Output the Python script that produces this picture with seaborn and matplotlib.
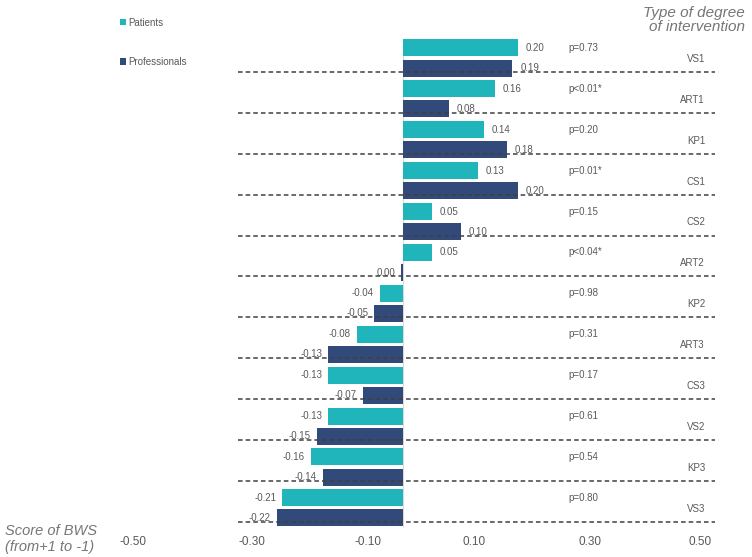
import matplotlib
matplotlib.use('Agg')
import matplotlib.pyplot as plt
import seaborn as sns
import pandas as pd

# data
items = ['VS1', 'ART1', 'KP1', 'CS1', 'CS2', 'ART2', 'KP2', 'ART3', 'CS3', 'VS2', 'KP3', 'VS3']
patients = [0.20, 0.16, 0.14, 0.13, 0.05, 0.05, -0.04, -0.08, -0.13, -0.13, -0.16, -0.21]
professionals = [0.19, 0.08, 0.18, 0.20, 0.10, -0.003, -0.05, -0.13, -0.07, -0.15, -0.14, -0.22]
pvalues = ['p=0.73', 'p<0.01*', 'p=0.20', 'p=0.01*', 'p=0.15', 'p<0.04*',
           'p=0.98', 'p=0.31', 'p=0.17', 'p=0.61', 'p=0.54', 'p=0.80']
tick_labels = ['-0.50', '-0.30', '-0.10', '0.10', '0.30', '0.50']
groups = ['Patients', 'Professionals']

sns.set_style('white')
plt.rcParams['font.family'] = ['Liberation Sans', 'DejaVu Sans']

TEAL = '#1fb5ba'
NAVY = '#324a79'
GREY = '#595959'

df = pd.DataFrame({
    'item': items * 2,
    'score': patients + professionals,
    'group': [groups[0]] * len(items) + [groups[1]] * len(items),
})

W, H, DPI = 752, 557, 100
fig = plt.figure(figsize=(W / DPI, H / DPI), dpi=DPI)
ax_h = 530
ax = fig.add_axes([0, (H - ax_h) / H, 1, ax_h / H])

sns.barplot(data=df, x='score', y='item', hue='group', orient='h',
            palette=[TEAL, NAVY], saturation=1, width=0.98, gap=0.15, ax=ax,
            linewidth=0, errorbar=None, legend=True)

# pixel-based scale: 0 at x=403px, 575 px per unit; groups 40.9px apart
px = 575.0
ax.set_xlim(-403 / px, (W - 403) / px)
gpx = 40.9
ax.set_ylim((ax_h - 58) / gpx, -58 / gpx)

for s in ax.spines.values():
    s.set_visible(False)
ax.set_ylabel('')
ax.set_xlabel('')
ax.set_yticks([])

# axis tick labels (as printed in the source)
tick_px = [133, 252, 368, 474, 590, 700]
ax.set_xticks([(p - 403) / px for p in tick_px])
ax.set_xticklabels(tick_labels, fontsize=8.5, color=GREY)
ax.tick_params(axis='x', length=0, pad=4)

# zero line
ax.vlines(0, -0.47, len(items) - 0.53, color='#d9d9d9', lw=0.8, zorder=0)

off = 0.245
for i, (a, b) in enumerate(zip(patients, professionals)):
    for v, y in ((a, i - off), (b, i + off)):
        lab = f'{v:.2f}'.replace('-0.00', '0.00')
        if v > 0:
            ax.text(v + 8 / px, y, lab, ha='left', va='center', fontsize=7, color=GREY)
        else:
            ax.text(v - 6 / px, y, lab, ha='right', va='center', fontsize=7, color=GREY)
    ax.text((568 - 403) / px, i - off, pvalues[i], ha='left', va='center',
            fontsize=7, color=GREY)
    ax.text((705 - 403) / px, i + 0.02, items[i], ha='right', va='center',
            fontsize=7, color=GREY)
    ax.hlines(i + 0.34, (238 - 403) / px, (715 - 403) / px, colors='#404040',
              lw=1.1, linestyles=(0, (3, 2)), zorder=5)

leg = ax.legend(loc='upper left', bbox_to_anchor=(111 / W, 1 - 9 / ax_h),
                frameon=False, fontsize=7, handlelength=0.6, handleheight=0.6,
                handletextpad=0.3, labelspacing=3.0)
for t in leg.get_texts():
    t.set_color(GREY)

fig.text(745 / W, 1 - 20 / H, 'Type of degree\nof intervention', ha='right', va='center',
         fontsize=11, style='italic', color='#767676', linespacing=1.0)
fig.text(5 / W, 1 - 539 / H, 'Score of BWS\n(from+1 to -1)', ha='left', va='center',
         fontsize=10.5, style='italic', color='#767676', linespacing=1.15)

fig.savefig('out.png', dpi=DPI)
